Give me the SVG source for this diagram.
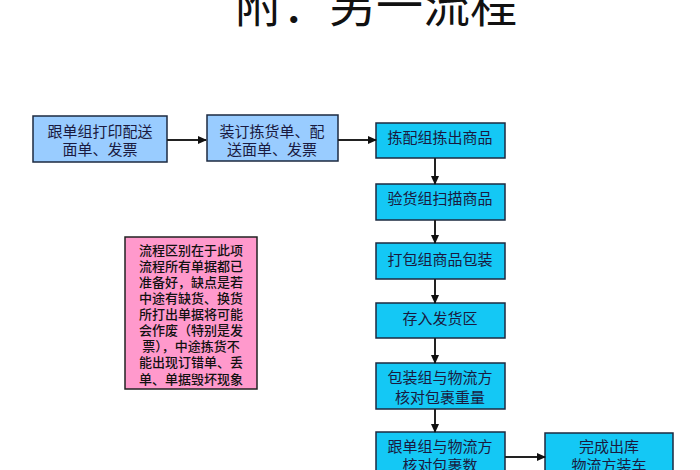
<svg xmlns="http://www.w3.org/2000/svg" width="700" height="470" viewBox="0 0 700 470">
<defs>
<marker id="ah" markerUnits="userSpaceOnUse" markerWidth="9" markerHeight="8" refX="8" refY="4" orient="auto">
<path d="M0,0 L9,4 L0,8 Z" fill="#111"/>
</marker>
</defs>
<style>
text{font-family:"Noto Sans CJK SC","Noto Sans",sans-serif;}
.lb{fill:#99CCFF;stroke:#1c2a40;stroke-width:1.5;}
.cy{fill:#14C8F5;stroke:#1c2a40;stroke-width:1.5;}
.pk{fill:#FF99CC;stroke:#222;stroke-width:1.5;}
.t{font-size:15px;fill:#1a1a40;text-anchor:middle;}
.p{font-size:13px;fill:#111;text-anchor:middle;font-weight:500;}
.c{stroke:#222;stroke-width:2;fill:none;marker-end:url(#ah);}
</style>
<rect width="700" height="470" fill="#fff"/>
<text x="235" y="22" style="font-size:47px;fill:#111;">附：另一流程</text>
<g id="n1"><rect class="lb" x="33" y="116" width="134" height="46"/><text class="t" x="100" y="137">跟单组打印配送</text><text class="t" x="100" y="155">面单、发票</text></g>
<g id="n2"><rect class="lb" x="207" y="115" width="131" height="46"/><text class="t" x="272" y="137">装订拣货单、配</text><text class="t" x="272" y="155">送面单、发票</text></g>
<g id="n3"><rect class="cy" x="376" y="123" width="129" height="35"/><text class="t" x="440" y="143">拣配组拣出商品</text></g>
<g id="n4"><rect class="cy" x="376" y="184" width="129" height="36"/><text class="t" x="440" y="204">验货组扫描商品</text></g>
<g id="n5"><rect class="cy" x="376" y="243" width="129" height="36"/><text class="t" x="440" y="265">打包组商品包装</text></g>
<g id="n6"><rect class="cy" x="376" y="303" width="129" height="35"/><text class="t" x="440" y="324">存入发货区</text></g>
<g id="n7"><rect class="cy" x="376" y="363" width="129" height="46"/><text class="t" x="440" y="383">包装组与物流方</text><text class="t" x="440" y="403">核对包裹重量</text></g>
<g id="n8"><rect class="cy" x="376" y="432" width="129" height="50"/><text class="t" x="440" y="452">跟单组与物流方</text><text class="t" x="440" y="471">核对包裹数</text></g>
<g id="n9"><rect class="cy" x="545" y="433" width="128" height="50"/><text class="t" x="609" y="452">完成出库</text><text class="t" x="609" y="471">物流方装车</text></g>
<g id="note"><rect class="pk" x="125" y="237" width="132" height="152"/>
<text class="p" x="191" y="255">流程区别在于此项</text>
<text class="p" x="191" y="271">流程所有单据都已</text>
<text class="p" x="191" y="287">准备好，缺点是若</text>
<text class="p" x="191" y="303">中途有缺货、换货</text>
<text class="p" x="191" y="319">所打出单据将可能</text>
<text class="p" x="191" y="335">会作废（特别是发</text>
<text class="p" x="191" y="351">票），中途拣货不</text>
<text class="p" x="191" y="367">能出现订错单、丢</text>
<text class="p" x="191" y="384">单、单据毁坏现象</text>
</g>
<g id="connectors">
<line class="c" x1="167" y1="140" x2="206" y2="140"/>
<line class="c" x1="338" y1="140" x2="376" y2="140"/>
<line class="c" x1="435" y1="158" x2="435" y2="184"/>
<line class="c" x1="435" y1="220" x2="435" y2="243"/>
<line class="c" x1="435" y1="279" x2="435" y2="303"/>
<line class="c" x1="435" y1="338" x2="435" y2="363"/>
<line class="c" x1="435" y1="409" x2="435" y2="432"/>
<line class="c" x1="505" y1="457" x2="545" y2="457"/>
</g>
</svg>
